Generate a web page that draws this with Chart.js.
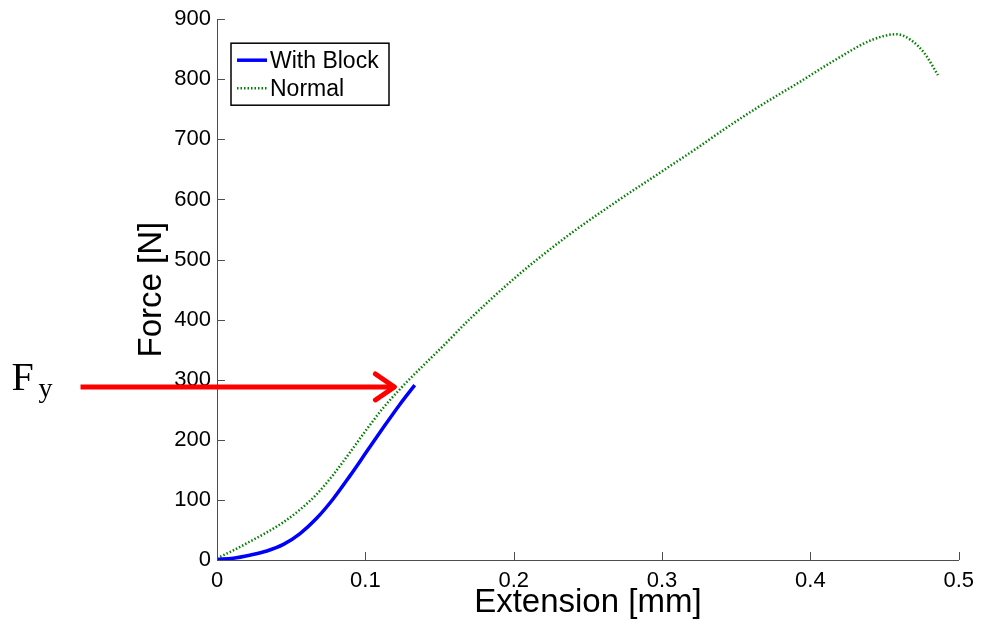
<!DOCTYPE html>
<html>
<head>
<meta charset="utf-8">
<script src="https://cdn.jsdelivr.net/npm/chart.js@4.4.1/dist/chart.umd.min.js"></script>
<style>
  html, body { margin: 0; padding: 0; background: #fff; }
  #chartHolder { width: 982px; height: 623px; }
</style>
</head>
<body>
<div id="chartHolder"><canvas id="myChart" width="982" height="623"></canvas></div>
<script>
// values
const blockExt = [0, 0.011, 0.022, 0.0336, 0.0448, 0.056, 0.067, 0.0784, 0.0896, 0.1008, 0.112, 0.123, 0.1333]
const blockForce = [1, 3, 8, 15, 26, 44, 69, 102, 140, 180, 220, 258, 291]

const normalExt = [0, 0.011, 0.0224, 0.0336, 0.0448, 0.056, 0.067, 0.0784, 0.0896, 0.1008, 0.112, 0.1255, 0.1367, 0.152, 0.170, 0.2025, 0.2372, 0.2708, 0.2977, 0.3257, 0.3402, 0.365, 0.3918, 0.4166, 0.441, 0.458, 0.468, 0.477, 0.486]
const normalForce = [3, 16, 31, 46, 63, 84, 109, 142, 179, 217, 253, 290, 318, 355, 400, 473, 541, 599, 643, 689, 714, 754, 794, 832, 865, 875, 865, 843, 807]

// the red Fy arrow (starts left of the axis, ends at the yield force)
const arrowExt = [-0.092, 0.1196]
const arrowForce = [288, 288]

const xTickValues = [0, 0.1, 0.2, 0.3, 0.4, 0.5]
const xTickLabels = ['0', '0.1', '0.2', '0.3', '0.4', '0.5']
const yTickValues = [0, 100, 200, 300, 400, 500, 600, 700, 800, 900]
const yTickLabels = ['0', '100', '200', '300', '400', '500', '600', '700', '800', '900']

const seriesLabels = ['With Block', 'Normal']
const sansFont = "'Liberation Sans', Arial, sans-serif"
const serifFont = "'Liberation Serif', 'Times New Roman', serif"

function toPoints(xs, ys){
    let pts = []
    for(let i = 0; i < xs.length; i++){
        pts.push({x: xs[i], y: ys[i]})
    }
    return pts
}

function tickLabel(values, labels, v){
    for(let i = 0; i < values.length; i++){
        if(Math.abs(values[i] - v) < 1e-9) return labels[i]
    }
    return ''
}

//inward MATLAB style tick marks
const inwardTicks = {
    id: 'inwardTicks',
    afterDraw(chart){
        let ctx = chart.ctx
        let xs = chart.scales.x
        let ys = chart.scales.y
        let area = chart.chartArea
        ctx.save()
        ctx.strokeStyle = '#4d4d4d'
        ctx.lineWidth = 1
        ctx.beginPath()
        xTickValues.forEach(v => {
            let px = Math.round(xs.getPixelForValue(v)) + 0.5
            ctx.moveTo(px, area.bottom)
            ctx.lineTo(px, area.bottom - 8)
        })
        yTickValues.forEach(v => {
            let py = Math.round(ys.getPixelForValue(v)) + 0.5
            ctx.moveTo(area.left, py)
            ctx.lineTo(area.left + 8, py)
        })
        ctx.stroke()
        ctx.restore()
    }
}

//arrow head on the red line plus the F_y label
const arrowHead = {
    id: 'arrowHead',
    afterDatasetsDraw(chart){
        let ctx = chart.ctx
        let meta = chart.getDatasetMeta(2)
        let tip = meta.data[meta.data.length - 1]
        let start = meta.data[0]
        ctx.save()
        ctx.strokeStyle = 'rgb(255,0,0)'
        ctx.lineWidth = 5
        ctx.lineCap = 'round'
        ctx.lineJoin = 'round'
        ctx.beginPath()
        ctx.moveTo(tip.x - 19, tip.y - 13)
        ctx.lineTo(tip.x, tip.y)
        ctx.lineTo(tip.x - 19, tip.y + 13)
        ctx.stroke()

        ctx.fillStyle = '#000'
        ctx.textBaseline = 'alphabetic'
        ctx.textAlign = 'left'
        ctx.font = '40px ' + serifFont
        ctx.fillText('F', start.x - 69, tip.y + 3)
        ctx.font = '28px ' + serifFont
        ctx.fillText('y', start.x - 42, tip.y + 10)
        ctx.restore()
    }
}

//boxed legend inside the top left of the axes
const boxLegend = {
    id: 'boxLegend',
    afterDraw(chart){
        let ctx = chart.ctx
        let area = chart.chartArea
        let bx = area.left + 14
        let by = area.top + 24
        let bw = 158
        let bh = 62
        ctx.save()
        ctx.fillStyle = '#fff'
        ctx.fillRect(bx, by, bw, bh)
        ctx.strokeStyle = '#000'
        ctx.lineWidth = 1.5
        ctx.strokeRect(bx, by, bw, bh)
        ctx.font = '23px ' + sansFont
        ctx.textBaseline = 'middle'
        ctx.textAlign = 'left'
        for(let i = 0; i < seriesLabels.length; i++){
            let ds = chart.data.datasets[i]
            let rowY = by + 17 + i * 28
            ctx.strokeStyle = ds.borderColor
            ctx.lineWidth = ds.borderWidth
            ctx.setLineDash(ds.borderDash || [])
            ctx.beginPath()
            ctx.moveTo(bx + 6, rowY)
            ctx.lineTo(bx + 36, rowY)
            ctx.stroke()
            ctx.setLineDash([])
            ctx.fillStyle = '#000'
            ctx.fillText(ds.label, bx + 39, rowY + 1)
        }
        ctx.restore()
    }
}

let myChart1 = document.getElementById('myChart').getContext('2d')

let chart1 = new Chart(myChart1, {
    type: 'line',
    data: {
        datasets: [{
            label: seriesLabels[0],
            data: toPoints(blockExt, blockForce),
            borderColor: 'rgb(0,0,255)',
            borderWidth: 3.5,
            pointRadius: 0,
            cubicInterpolationMode: 'monotone',
            fill: false
        }, {
            label: seriesLabels[1],
            data: toPoints(normalExt, normalForce),
            borderColor: 'rgb(0,128,0)',
            borderWidth: 2.5,
            borderDash: [1.5, 2],
            pointRadius: 0,
            cubicInterpolationMode: 'monotone',
            fill: false
        }, {
            label: 'Fy',
            data: toPoints(arrowExt, arrowForce),
            borderColor: 'rgb(255,0,0)',
            borderWidth: 5,
            borderCapStyle: 'butt',
            pointRadius: 0,
            clip: false,
            fill: false
        }]
    },
    options: {
        responsive: false,
        animation: false,
        devicePixelRatio: 1,
        layout: {
            padding: {left: 132, top: 19, right: 21, bottom: 0}
        },
        plugins: {
            legend: {display: false},
            tooltip: {enabled: false}
        },
        scales: {
            x: {
                type: 'linear',
                min: 0,
                max: 0.5,
                afterFit: s => { s.height = 63 },
                afterBuildTicks: s => { s.ticks = xTickValues.map(v => ({value: v})) },
                grid: {display: false, drawTicks: false},
                border: {display: true, color: '#4d4d4d', width: 1},
                ticks: {
                    color: '#000',
                    padding: 8,
                    maxRotation: 0,
                    font: {family: sansFont, size: 22},
                    callback: v => tickLabel(xTickValues, xTickLabels, v)
                },
                title: {
                    display: true,
                    text: 'Extension [mm]',
                    color: '#000',
                    padding: {top: 0, bottom: 0},
                    font: {family: sansFont, size: 33}
                }
            },
            y: {
                type: 'linear',
                min: 0,
                max: 900,
                afterFit: s => { s.width = 85 },
                afterBuildTicks: s => { s.ticks = yTickValues.map(v => ({value: v})) },
                grid: {display: false, drawTicks: false},
                border: {display: true, color: '#4d4d4d', width: 1},
                ticks: {
                    color: '#000',
                    padding: 6,
                    font: {family: sansFont, size: 22},
                    callback: v => tickLabel(yTickValues, yTickLabels, v)
                },
                title: {
                    display: true,
                    text: 'Force [N]',
                    color: '#000',
                    padding: {top: 0, bottom: 0},
                    font: {family: sansFont, size: 33}
                }
            }
        }
    },
    plugins: [inwardTicks, arrowHead, boxLegend]
})
</script>
</body>
</html>
